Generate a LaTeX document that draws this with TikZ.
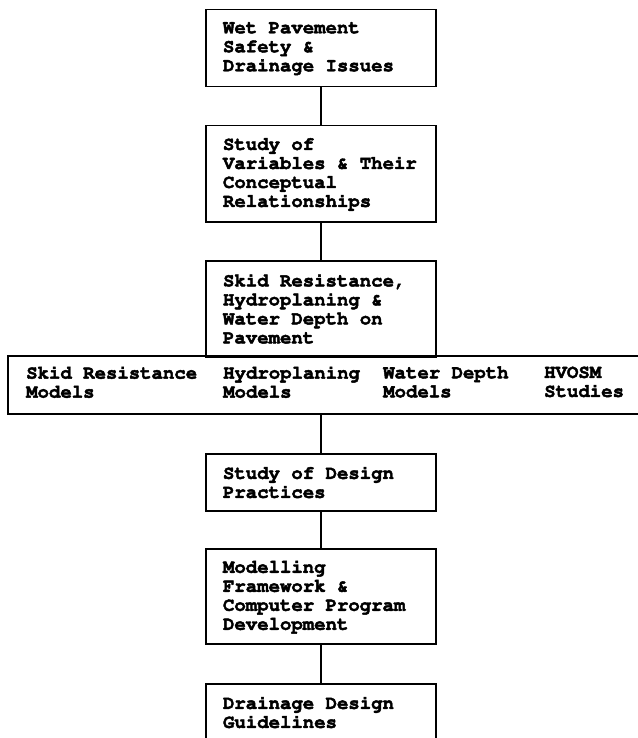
\documentclass[tikz,border=0pt]{standalone}
\usepackage[T1]{fontenc}
\renewcommand{\ttdefault}{pcr}
\begin{document}
\begin{tikzpicture}[x=1pt,y=-1pt,
  every node/.style={font=\ttfamily\bfseries\fontsize{19}{19}\selectfont, execute at begin node={\spaceskip=11.4pt\relax\special{pdf:literal 2 Tr 0.45 w}}},
  box/.style={draw, line width=1.5pt, minimum width=230pt, text width=196pt, inner xsep=17pt, inner ysep=0pt, align=left, anchor=north},
  conn/.style={line width=1.5pt},
  lbl/.style={anchor=west, inner sep=0pt, align=left}]
\useasboundingbox (0,0) rectangle (637,738);
\node[box, minimum height=77pt] (b1) at (321,9) {Wet Pavement\\Safety \&\\Drainage Issues};
\node[box, minimum height=96pt] (b2) at (321,125) {Study of\\Variables \& Their\\Conceptual\\Relationships};
\node[box, minimum height=96pt] (b3) at (321,260) {Skid Resistance,\\Hydroplaning \&\\Water Depth on\\Pavement};
\node[draw, line width=1.5pt, minimum width=636pt, minimum height=58pt, anchor=north west, inner sep=0pt] (models) at (7,355) {};
\node[lbl] (m1) at (26,382) {Skid Resistance\\Models};
\node[lbl] (m2) at (223,382) {Hydroplaning\\Models};
\node[lbl] (m3) at (383,382) {Water Depth\\Models};
\node[lbl] (m4) at (544,382) {HVOSM\\Studies};
\node[box, minimum height=57pt] (b4) at (321,453) {Study of Design\\Practices};
\node[box, minimum height=95pt] (b5) at (321,548) {Modelling\\Framework \&\\Computer Program\\Development};
\node[box, minimum height=57pt] (b6) at (321,683) {Drainage Design\\Guidelines};
\draw[conn] (b1.south) -- (b2.north);
\draw[conn] (b2.south) -- (b3.north);
\draw[conn] (b4.north |- models.south) -- (b4.north);
\draw[conn] (b4.south) -- (b5.north);
\draw[conn] (b5.south) -- (b6.north);
\end{tikzpicture}
\end{document}
